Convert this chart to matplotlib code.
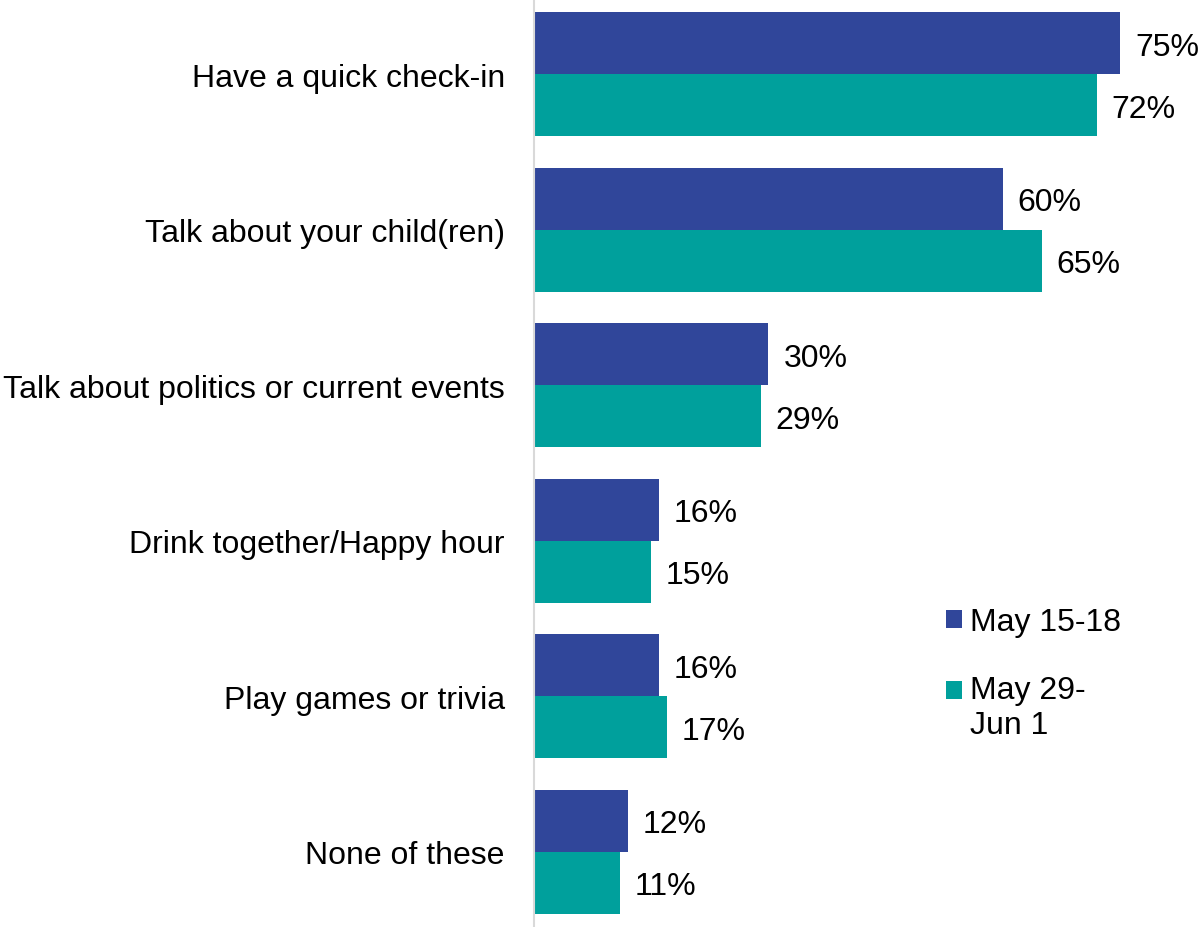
import matplotlib.pyplot as plt
import numpy as np
from matplotlib.patches import Rectangle
from matplotlib.legend_handler import HandlerPatch, update_from_first_child

categories = [
    'Have a quick check-in',
    'Talk about your child(ren)',
    'Talk about politics or current events',
    'Drink together/Happy hour',
    'Play games or trivia',
    'None of these',
]
may_15_18 = [75, 60, 30, 16, 16, 12]
may29_jun1 = [72, 65, 29, 15, 17, 11]
series_labels = ['May 15-18', 'May 29-\nJun 1']

BLUE = '#30469A'
TEAL = '#00A09C'
FS = 23

plt.rcParams['font.family'] = ['Liberation Sans', 'DejaVu Sans']

fig = plt.figure(figsize=(11.99, 9.28), dpi=100)
ax = fig.add_axes([0.4454, 0.0, 0.5546, 1.0])

y = np.arange(len(categories))
h = 0.4
b1 = ax.barh(y - h / 2, may_15_18, height=h, color=BLUE, label=series_labels[0])
b2 = ax.barh(y + h / 2, may29_jun1, height=h, color=TEAL, label=series_labels[1])

for bars, vals in ((b1, may_15_18), (b2, may29_jun1)):
    for bar, v in zip(bars, vals):
        ax.text(bar.get_width() + 1.9, bar.get_y() + bar.get_height() / 2,
                f'{v}%', va='center_baseline', ha='left', fontsize=FS, color='#000000')

ax.set_xlim(0, 85.1)
ax.set_ylim(5.484, -0.484)
ax.set_yticks(y)
ax.set_yticklabels(categories, fontsize=FS)
ax.tick_params(axis='y', length=0, pad=21)
ax.set_xticks([])

for s in ['top', 'right', 'bottom']:
    ax.spines[s].set_visible(False)
ax.spines['left'].set_color('#D9D9D9')
ax.spines['left'].set_linewidth(1.5)


# square for the two-line entry sits next to the first line, not the middle
def top_square(legend, orig_handle, xdescent, ydescent, width, height, fontsize):
    return Rectangle((-xdescent, -ydescent + 12.6), width, height)


ax.legend(loc='upper left', bbox_to_anchor=(0.778, 0.3585), bbox_transform=fig.transFigure,
          frameon=False, fontsize=FS, handlelength=0.5, handleheight=0.5,
          handletextpad=0.25, labelspacing=1.2, borderaxespad=0,
          handler_map={b2: HandlerPatch(patch_func=top_square,
                                        update_func=update_from_first_child)})

fig.savefig('out.png', dpi=100)
